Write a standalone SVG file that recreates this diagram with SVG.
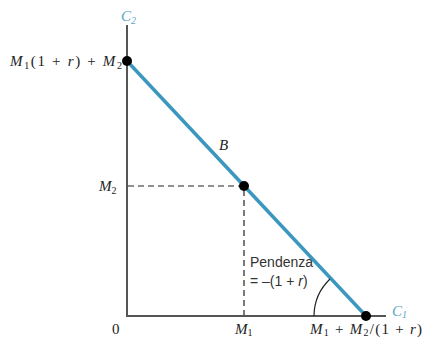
<svg xmlns="http://www.w3.org/2000/svg" width="425" height="338" viewBox="0 0 425 338">
<style>
.axis{stroke:#555;stroke-width:2;fill:none}
.dash{stroke:#222;stroke-width:1.2;stroke-dasharray:6,4;fill:none}
.budget{stroke:#3c97bf;stroke-width:3.5;fill:none}
.t{font-family:"Liberation Serif",serif;font-size:15px;fill:#222}
.i{font-style:italic}
.s{font-family:"Liberation Sans",sans-serif;font-size:14px;fill:#333}
.ax{font-family:"Liberation Serif",serif;font-style:italic;font-size:15px;fill:#5aa6c3}
.sub{font-size:10px}
</style>
<g id="axes">
<line class="axis" x1="127" y1="25" x2="127" y2="316"/>
<line class="axis" x1="126" y1="316" x2="386" y2="316"/>
<text class="ax" x="121" y="21">C<tspan class="sub" dy="3">2</tspan></text>
<text class="ax" x="392" y="316">C<tspan class="sub" dy="2">1</tspan></text>
</g>
<g id="connectors">
<line class="budget" x1="127" y1="61" x2="366" y2="316"/>
<polyline class="dash" points="128,186 244,186 244,315"/>
<path d="M314,316 A52,52 0 0 1 330,279" stroke="#222" stroke-width="1.2" fill="none"/>
</g>
<g id="node-top">
<circle cx="127" cy="61" r="5" fill="#000"/>
<text class="t" x="10" y="66" textLength="112" lengthAdjust="spacing"><tspan class="i">M</tspan><tspan class="sub" dy="3">1</tspan><tspan dy="-3">(1 + </tspan><tspan class="i">r</tspan>) + <tspan class="i">M</tspan><tspan class="sub" dy="3">2</tspan></text>
</g>
<g id="node-mid">
<circle cx="244" cy="186" r="5" fill="#000"/>
<text class="t" x="99" y="191"><tspan class="i">M</tspan><tspan class="sub" dy="3">2</tspan></text>
<text class="t i" x="219" y="150">B</text>
</g>
<g id="node-bottom">
<circle cx="366" cy="316" r="5" fill="#000"/>
<text class="t" x="310" y="334" textLength="112" lengthAdjust="spacing"><tspan class="i">M</tspan><tspan class="sub" dy="2">1</tspan><tspan dy="-2"> + </tspan><tspan class="i">M</tspan><tspan class="sub" dy="2">2</tspan><tspan dy="-2">/(1 + </tspan><tspan class="i">r</tspan>)</text>
</g>
<g id="labels">
<text class="t" x="112" y="334">0</text>
<text class="t" x="235" y="334"><tspan class="i">M</tspan><tspan class="sub" dy="2">1</tspan></text>
<text class="s" x="250" y="267">Pendenza</text>
<text class="s" x="250" y="286">= –(1 + <tspan font-style="italic">r</tspan>)</text>
</g>
</svg>
